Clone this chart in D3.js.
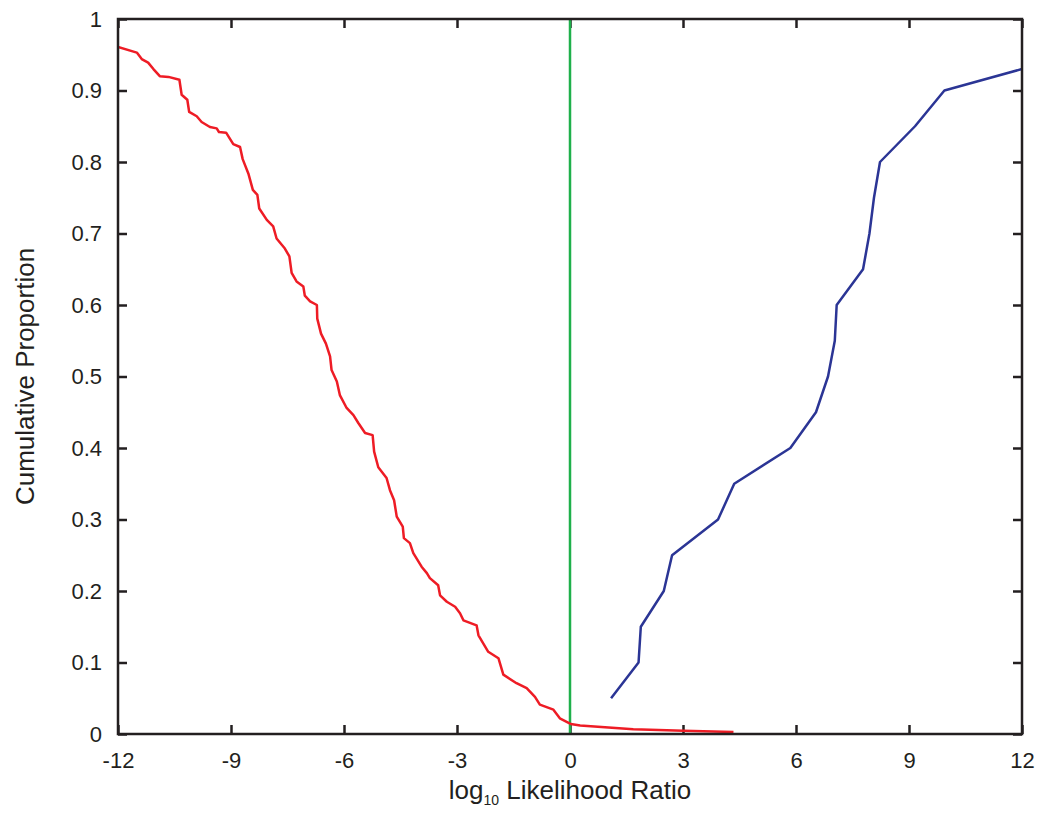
<!DOCTYPE html>
<html>
<head>
<meta charset="utf-8">
<script src="https://cdn.jsdelivr.net/npm/d3@7"></script>
<style>
  body { margin: 0; background: #fff; }
  text { font-family: "Liberation Sans", Arial, sans-serif; fill: #231f20; }
</style>
</head>
<body>
<div id="chart"></div>
<script>
// chart dimensions
var svgWidth = 1042;
var svgHeight = 814;

var margin = { top: 19, right: 20, bottom: 80, left: 118 };
var width = 1022 - margin.left;
var height = 734 - margin.top;

// data: red curve (x = log10 LR, y = cumulative proportion)
var redX = [-12, -11.5, -11.37, -11.2, -11.06, -10.89, -10.66, -10.37, -10.31, -10.16, -10.11, -9.91, -9.78, -9.56,
    -9.38, -9.32, -9.13, -8.94, -8.76, -8.69, -8.54, -8.42, -8.3, -8.25, -8.05, -7.88, -7.79, -7.57, -7.45, -7.39,
    -7.26, -7.08, -7.04, -6.9, -6.72, -6.71, -6.61, -6.48, -6.37, -6.33, -6.19, -6.11, -5.93, -5.75, -5.62, -5.44,
    -5.24, -5.2, -5.09, -4.87, -4.78, -4.67, -4.6, -4.44, -4.41, -4.25, -4.16, -3.94, -3.8, -3.72, -3.5, -3.45,
    -3.27, -3.05, -2.92, -2.83, -2.48, -2.43, -2.17, -1.9, -1.77, -1.42, -1.15, -0.93, -0.8, -0.44, -0.27, -0.05,
    0.02, 0.27, 1.68, 3.01, 4.34];
var redY = [0.961, 0.953, 0.944, 0.939, 0.93, 0.92, 0.919, 0.915, 0.894, 0.887, 0.87, 0.864, 0.856, 0.849,
    0.847, 0.842, 0.841, 0.825, 0.821, 0.804, 0.784, 0.761, 0.754, 0.735, 0.719, 0.71, 0.693, 0.679, 0.668, 0.645,
    0.633, 0.626, 0.613, 0.605, 0.6, 0.581, 0.56, 0.546, 0.528, 0.509, 0.493, 0.474, 0.456, 0.446, 0.435, 0.421,
    0.418, 0.395, 0.373, 0.358, 0.341, 0.327, 0.304, 0.29, 0.274, 0.267, 0.253, 0.234, 0.225, 0.218, 0.208, 0.194,
    0.185, 0.178, 0.169, 0.159, 0.152, 0.138, 0.115, 0.106, 0.083, 0.071, 0.064, 0.052, 0.041, 0.034, 0.022, 0.016,
    0.014, 0.012, 0.0066, 0.0046, 0.0028];

// data: blue curve
var blueX = [1.09, 1.82, 1.88, 2.49, 2.71, 3.93, 4.36, 5.85, 6.53, 6.85, 7.03, 7.08, 7.78, 7.95, 8.07, 8.23, 9.16, 9.94, 12];
var blueY = [0.05, 0.1, 0.15, 0.2, 0.25, 0.3, 0.35, 0.4, 0.45, 0.5, 0.55, 0.6, 0.65, 0.7, 0.75, 0.8, 0.85, 0.9, 0.93];

// reference line at log10 LR = 0
var refX = 0;

// ticks
var xTicks = [-12, -9, -6, -3, 0, 3, 6, 9, 12];
var xTickLabels = ["-12", "-9", "-6", "-3", "0", "3", "6", "9", "12"];
var yTicks = [0, 0.1, 0.2, 0.3, 0.4, 0.5, 0.6, 0.7, 0.8, 0.9, 1];
var yTickLabels = ["0", "0.1", "0.2", "0.3", "0.4", "0.5", "0.6", "0.7", "0.8", "0.9", "1"];

var svg = d3.select("#chart")
    .append("svg")
    .attr("width", svgWidth)
    .attr("height", svgHeight);

var chartGroup = svg.append("g")
    .attr("transform", `translate(${margin.left}, ${margin.top})`);

// scales
var xScale = d3.scaleLinear().domain([-12, 12]).range([0, width]);
var yScale = d3.scaleLinear().domain([0, 1]).range([height, 0]);

chartGroup.append("clipPath")
    .attr("id", "clip")
    .append("rect")
    .attr("width", width)
    .attr("height", height);

// axes with inward ticks, mirrored on top/right
var tickLen = 9;
function styleAxis(g) {
    g.select(".domain").remove();
    g.selectAll(".tick line").attr("stroke", "#231f20").attr("stroke-width", 2.5);
    g.selectAll(".tick text").attr("font-size", "22px").attr("fill", "#231f20")
        .attr("font-family", "'Liberation Sans', Arial, sans-serif");
}

chartGroup.append("g")
    .attr("transform", `translate(0, ${height})`)
    .call(d3.axisBottom(xScale).tickValues(xTicks).tickSizeInner(-tickLen).tickSizeOuter(0).tickPadding(18)
        .tickFormat((d, i) => xTickLabels[i]))
    .call(styleAxis);

chartGroup.append("g")
    .call(d3.axisTop(xScale).tickValues(xTicks).tickSizeInner(-tickLen).tickSizeOuter(0).tickFormat(""))
    .call(styleAxis);

chartGroup.append("g")
    .call(d3.axisLeft(yScale).tickValues(yTicks).tickSizeInner(-tickLen).tickSizeOuter(0).tickPadding(16)
        .tickFormat((d, i) => yTickLabels[i]))
    .call(styleAxis);

chartGroup.append("g")
    .attr("transform", `translate(${width}, 0)`)
    .call(d3.axisRight(yScale).tickValues(yTicks).tickSizeInner(-tickLen).tickSizeOuter(0).tickFormat(""))
    .call(styleAxis);

// lines
var line = d3.line()
    .x(d => xScale(d[0]))
    .y(d => yScale(d[1]));

var redData = redX.map((x, i) => [x, redY[i]]);
var blueData = blueX.map((x, i) => [x, blueY[i]]);

var plotGroup = chartGroup.append("g").attr("clip-path", "url(#clip)");

plotGroup.append("line")
    .attr("x1", xScale(refX))
    .attr("x2", xScale(refX))
    .attr("y1", yScale(0))
    .attr("y2", yScale(1))
    .attr("stroke", "#1fb04b")
    .attr("stroke-width", 2.5);

plotGroup.append("path")
    .datum(blueData)
    .attr("d", line)
    .attr("fill", "none")
    .attr("stroke", "#2b3595")
    .attr("stroke-width", 2.5)
    .attr("stroke-linejoin", "round");

plotGroup.append("path")
    .datum(redData)
    .attr("d", line)
    .attr("fill", "none")
    .attr("stroke", "#ee1c25")
    .attr("stroke-width", 2.5)
    .attr("stroke-linejoin", "round");

// frame
chartGroup.append("rect")
    .attr("width", width)
    .attr("height", height)
    .attr("fill", "none")
    .attr("stroke", "#231f20")
    .attr("stroke-width", 2.5);

// axis labels
var xLabel = svg.append("text")
    .attr("x", margin.left + width / 2)
    .attr("y", 799)
    .attr("text-anchor", "middle")
    .attr("font-size", "26px");
xLabel.append("tspan").text("log");
xLabel.append("tspan").attr("font-size", "14px").attr("dy", 6).text("10");
xLabel.append("tspan").attr("dy", -6).text(" Likelihood Ratio");

svg.append("text")
    .attr("transform", `translate(34, ${margin.top + height / 2}) rotate(-90)`)
    .attr("text-anchor", "middle")
    .attr("font-size", "26px")
    .text("Cumulative Proportion");
</script>
</body>
</html>
